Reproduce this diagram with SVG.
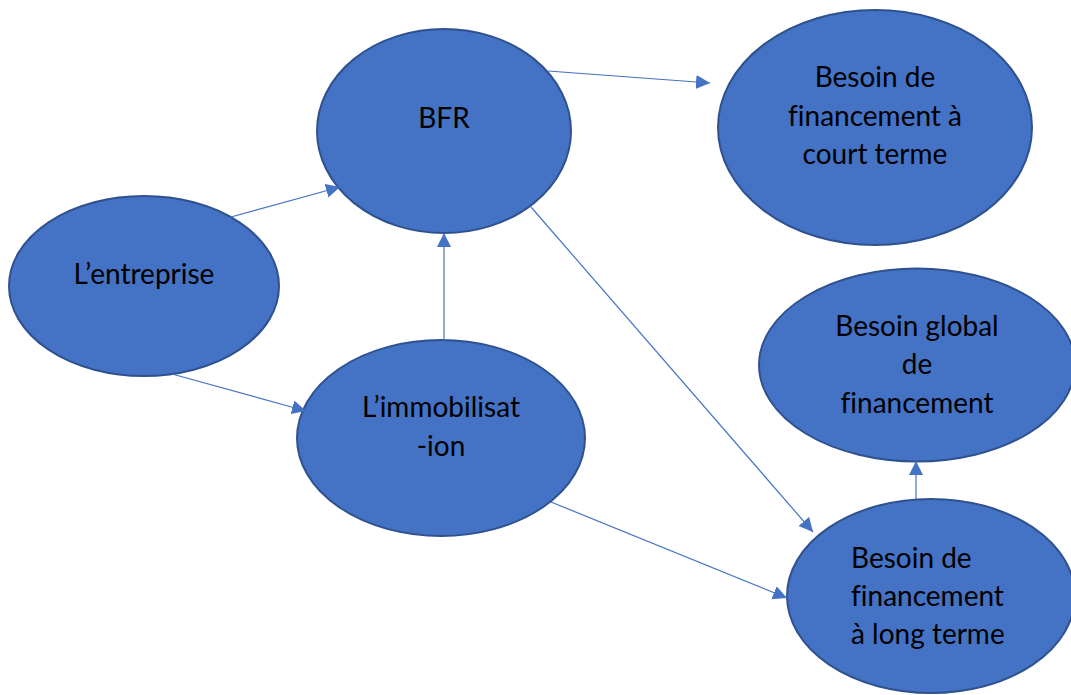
<svg xmlns="http://www.w3.org/2000/svg" width="1071" height="695" viewBox="0 0 1071 695">
<style>
.node ellipse{fill:#4472C4;stroke:#2F528F;stroke-width:2}
.node text{font-family:Lato,"Liberation Sans",sans-serif;font-size:28px;fill:#000;font-variant-ligatures:none}
.c{text-anchor:middle}
#connectors line{stroke:#4472C4;stroke-width:1.2;fill:none;marker-end:url(#arr)}
</style>
<defs>
<marker id="arr" markerUnits="userSpaceOnUse" markerWidth="15" markerHeight="15" refX="14" refY="7" orient="auto">
<path d="M0,0 L14,7 L0,14 z" fill="#4472C4"/>
</marker>
</defs>
<rect width="1071" height="695" fill="#fff"/>
<g id="n-bfr" class="node">
<ellipse cx="444" cy="131" rx="127" ry="102"/>
<text class="c" x="444" y="128">BFR</text>
</g>
<g id="n-court" class="node">
<ellipse cx="875" cy="127.5" rx="157" ry="117.5"/>
<text class="c" x="875" y="87">Besoin de</text>
<text class="c" x="875" y="126">financement à</text>
<text class="c" x="875" y="164">court terme</text>
</g>
<g id="n-entreprise" class="node">
<ellipse cx="144" cy="286" rx="135" ry="90"/>
<text class="c" x="144" y="284">L’entreprise</text>
</g>
<g id="n-immo" class="node">
<ellipse cx="441" cy="438" rx="144" ry="98"/>
<text class="c" x="441" y="417">L’immobilisat</text>
<text class="c" x="441" y="456">-ion</text>
</g>
<g id="n-global" class="node">
<ellipse cx="917" cy="365" rx="158" ry="96.5"/>
<text class="c" x="917" y="336">Besoin global</text>
<text class="c" x="917" y="374">de</text>
<text class="c" x="917" y="413">financement</text>
</g>
<g id="n-long" class="node">
<ellipse cx="931" cy="596" rx="144" ry="97"/>
<text x="851" y="568">Besoin de</text>
<text x="851" y="606">financement</text>
<text x="851" y="644">à long terme</text>
</g>
<g id="connectors">
<line x1="231" y1="217" x2="340" y2="187"/>
<line x1="548" y1="71" x2="710" y2="83"/>
<line x1="444" y1="340" x2="444" y2="233"/>
<line x1="172" y1="374" x2="306" y2="411"/>
<line x1="531" y1="207" x2="813" y2="532"/>
<line x1="551" y1="502" x2="787" y2="598"/>
<line x1="916" y1="499" x2="916" y2="461"/>
</g>
</svg>
